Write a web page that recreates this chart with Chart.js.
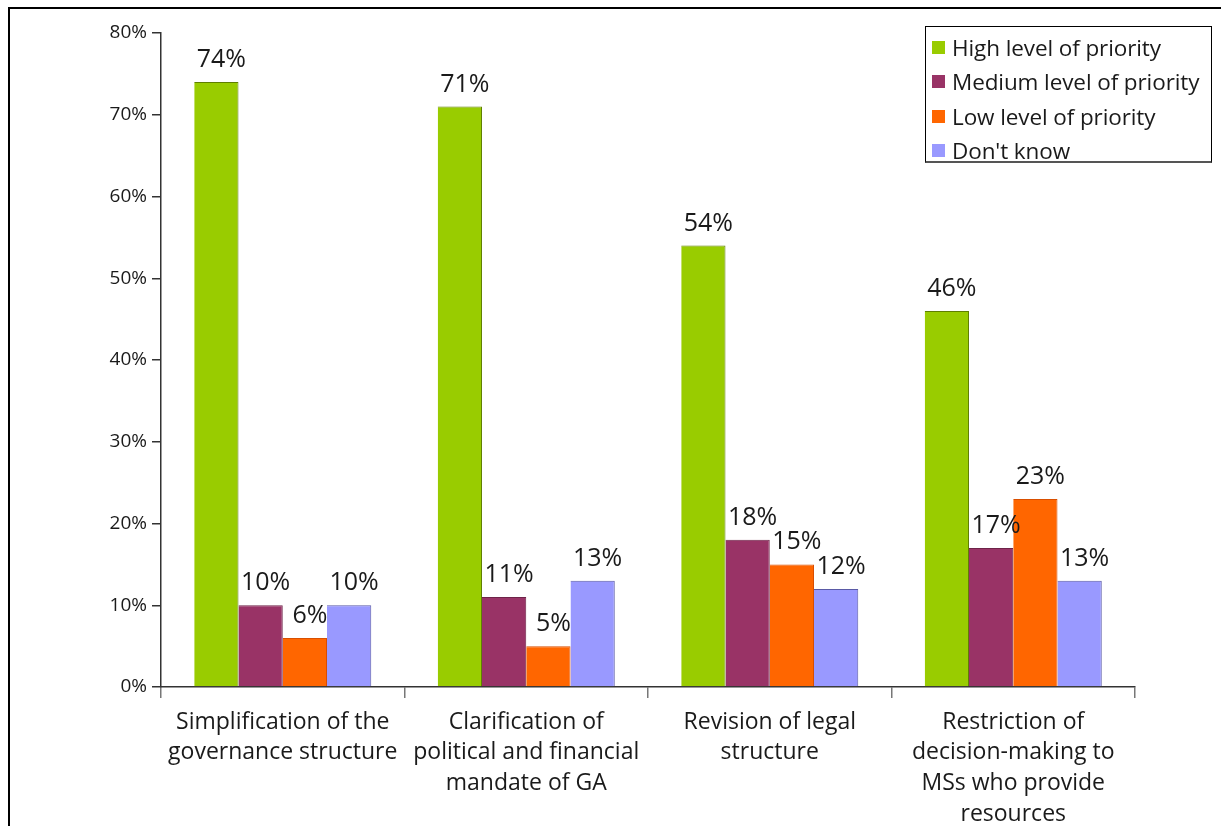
<!DOCTYPE html>
<html>
<head>
<meta charset="utf-8">
<script src="https://cdn.jsdelivr.net/npm/chart.js@4/dist/chart.umd.min.js"></script>
<style>
  html, body { margin: 0; padding: 0; background: #fff; overflow: hidden; }
  body { width: 1221px; height: 826px; position: relative; font-family: "Open Sans", sans-serif; }
  #frame { position: absolute; left: 8px; top: 7px; width: 1400px; height: 1000px; border: 2px solid #000; }
  #chart { position: absolute; left: 0; top: 0; }
  #legend {
    position: absolute; left: 925px; top: 26px; width: 287px; height: 137px;
    border: 1px solid #000; border-bottom: 2px solid #555; box-sizing: border-box; background: #fff;
    padding-top: 3px;
  }
  .item { display: flex; align-items: center; height: 34.5px; padding-left: 6px; font-size: 22.5px; color: #1a1a1a; white-space: nowrap; letter-spacing: -0.1px; }
  .swatch { width: 13px; height: 13px; margin-right: 7px; flex: none; }
</style>
</head>
<body>
<div id="frame"></div>
<canvas id="chart" width="1221" height="826"></canvas>
<div id="legend"></div>
<script>
// Priority ratings per reform area (percent of respondents)
const categories = [
  ["Simplification of the", "governance structure"],
  ["Clarification of", "political and financial", "mandate of GA"],
  ["Revision of legal", "structure"],
  ["Restriction of", "decision-making to", "MSs who provide", "resources"],
];
const seriesNames = ["High level of priority", "Medium level of priority", "Low level of priority", "Don't know"];
const highPriority = [74, 71, 54, 46];
const mediumPriority = [10, 11, 18, 17];
const lowPriority = [6, 5, 15, 23];
const dontKnow = [10, 13, 12, 13];
const yTicks = [0, 10, 20, 30, 40, 50, 60, 70, 80];

const FILL = ["#99cc00", "#993366", "#ff6600", "#9999ff"];
const EDGE = ["#5f7f00", "#6e2348", "#d94f00", "#5a5aa6"];
const TEXT = "#1a1a1a";
const AXIS = "#333333";

// legend box drawn as html, same order as the datasets
document.getElementById("legend").innerHTML = seriesNames.map((n, i) => `
  <div class="item"><span class="swatch" style="background:${FILL[i]}"></span>${n}</div>`).join("");

// value labels above each bar
const barLabels = {
  id: "barLabels",
  afterDatasetsDraw(chart) {
    const ctx = chart.ctx;
    ctx.save();
    ctx.font = "25px 'Open Sans', sans-serif";
    ctx.fillStyle = TEXT;
    ctx.textAlign = "center";
    ctx.textBaseline = "alphabetic";
    chart.data.datasets.forEach((ds, i) => {
      chart.getDatasetMeta(i).data.forEach((bar, j) => {
        ctx.fillText(ds.data[j] + "%", bar.x + 5, bar.y - 15);
      });
    });
    ctx.restore();
  },
};

const seriesData = [highPriority, mediumPriority, lowPriority, dontKnow];

new Chart(document.getElementById("chart"), {
  type: "bar",
  data: {
    labels: categories,
    datasets: seriesData.map((d, i) => ({
      label: seriesNames[i],
      data: d,
      backgroundColor: FILL[i],
      borderColor: EDGE[i],
      borderWidth: { top: 1, right: 1, left: 0, bottom: 0 },
      borderSkipped: "start",
    })),
  },
  options: {
    responsive: false,
    animation: false,
    devicePixelRatio: 1,
    categoryPercentage: 0.727,
    barPercentage: 1,
    layout: { padding: { left: 0, top: 33, right: 86, bottom: 0 } },
    plugins: {
      legend: { display: false },
      tooltip: { enabled: false },
    },
    scales: {
      x: {
        grid: { offset: true, drawOnChartArea: false, tickLength: 11, color: "#777", lineWidth: 1.5 },
        border: { color: AXIS, width: 1.5 },
        ticks: {
          color: TEXT, padding: 9, maxRotation: 0, autoSkip: false,
          font: { family: "'Open Sans', sans-serif", size: 23, lineHeight: 1.33 },
        },
        afterFit: (s) => { s.height = 139; },
      },
      y: {
        min: 0, max: 80,
        afterBuildTicks: (s) => { s.ticks = yTicks.map((v) => ({ value: v })); },
        grid: { drawOnChartArea: false, tickLength: 9, color: AXIS, lineWidth: 1.5 },
        border: { color: AXIS, width: 1.5 },
        ticks: {
          color: TEXT, padding: 5,
          font: { family: "'Open Sans', sans-serif", size: 19 },
          callback: (v) => v + "%",
        },
        afterFit: (s) => { s.width = 161; },
      },
    },
  },
  plugins: [barLabels],
});
</script>
</body>
</html>
